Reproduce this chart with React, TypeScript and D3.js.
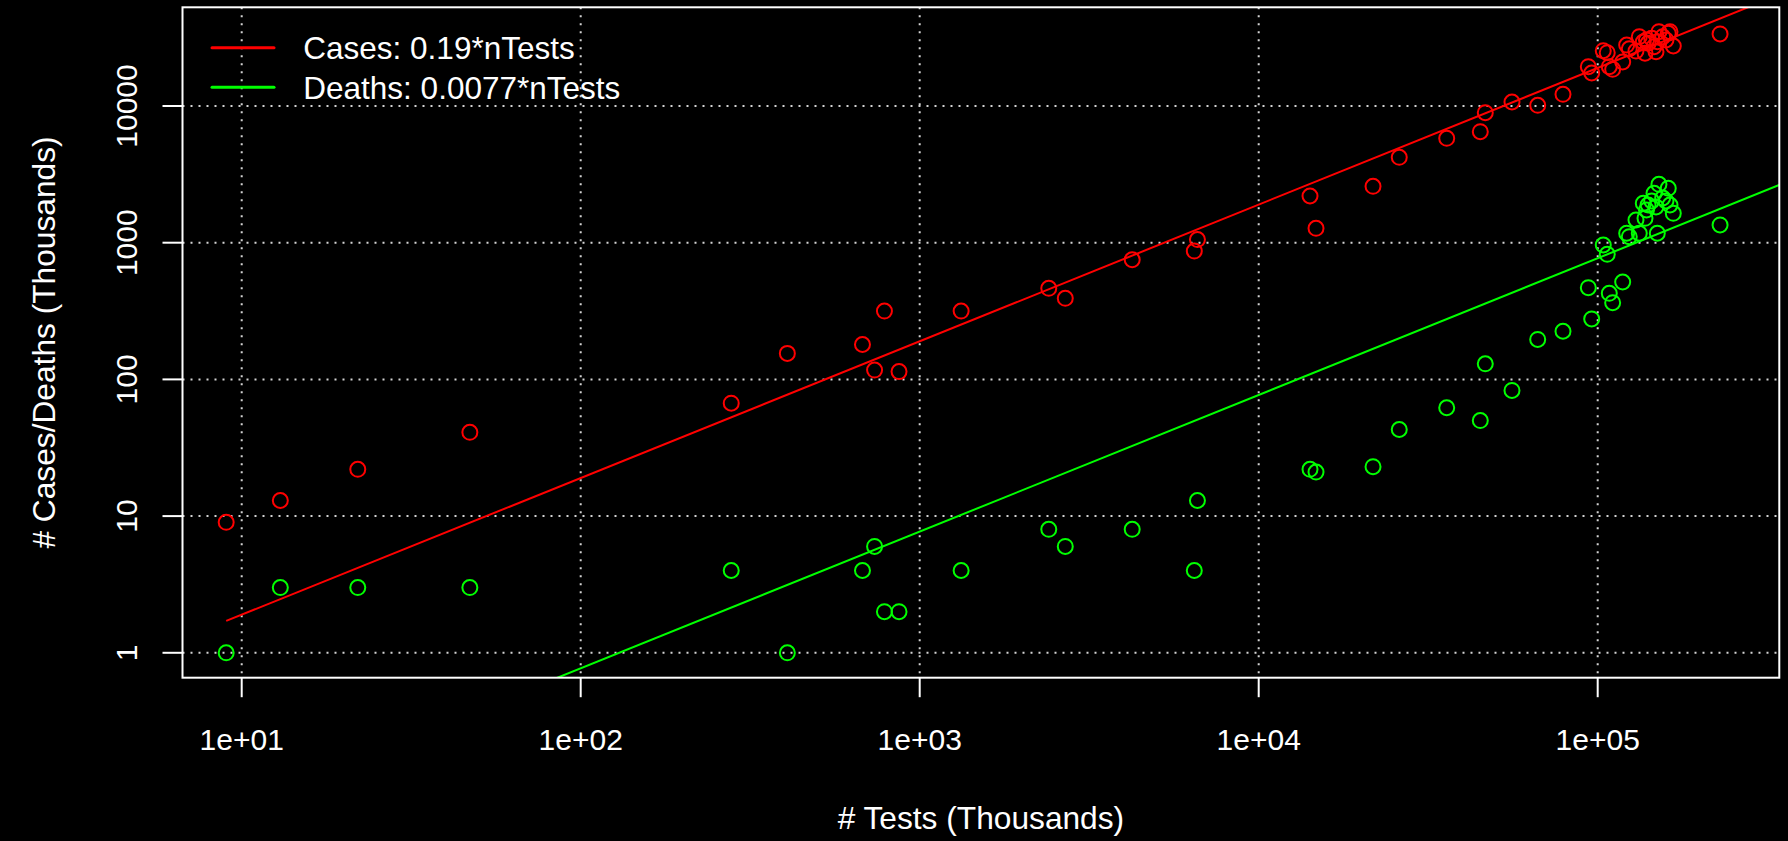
import React from "react";
import * as d3 from "d3";

const tests = [9.0, 13.0, 22.0, 47.1, 278, 407, 678, 736, 787, 869, 1325, 2403, 2688, 4235, 6457, 6596, 14170, 14760, 21740, 25980, 35860, 45050, 46600, 55870, 66530, 79000, 93830, 96000, 103850, 106700, 108190, 110700, 118500, 121760, 123920, 129700, 132640, 136300, 137900, 139300, 140800, 144300, 146600, 148600, 149900, 151600, 155500, 159000, 161500, 163400, 167100, 229600];
const cases = [9, 13, 22, 41, 67, 155, 180, 117, 316, 114, 316, 464, 392, 750, 869, 1054, 2196, 1274, 2586, 4214, 5802, 6486, 8934, 10700, 10120, 12180, 19390, 17440, 25380, 24540, 19390, 18560, 20990, 27900, 26240, 25240, 32130, 29370, 24310, 30400, 28780, 31260, 27160, 24940, 29510, 34990, 32130, 30400, 34040, 34990, 27480, 33650];
const deaths = [1, 3, 3, 3, 4, 1, 4, 6, 2, 2, 4, 8, 6, 8, 4, 13, 22, 21, 23, 43, 62, 50, 130, 83, 196, 225, 469, 277, 962, 822, 426, 364, 516, 1172, 1106, 1466, 1172, 1941, 1508, 1735, 1887, 2018, 2298, 1825, 1172, 2674, 2123, 2018, 2500, 1887, 1641, 1348];

const casesSlope = 0.19;
const deathsSlope = 0.0077;
const xTicks = [10, 100, 1000, 10000, 100000];
const xTickLabels = ["1e+01", "1e+02", "1e+03", "1e+04", "1e+05"];
const yTicks = [1, 10, 100, 1000, 10000];
const yTickLabels = ["1", "10", "100", "1000", "10000"];
const legendLabels = ["Cases: 0.19*nTests", "Deaths: 0.0077*nTests"];
const xTitle = "# Tests (Thousands)";
const yTitle = "# Cases/Deaths (Thousands)";

const W = 1788, H = 841;
const L = 182.5, R = 1779.3, T = 7.3, B = 677.7;
const RED = "#ff0000", GREEN = "#00ff00";
const FONT = "'Liberation Sans', Arial, Helvetica, sans-serif";

export default function App() {
  const x = d3.scaleLog().domain([Math.pow(10, 0.82537), Math.pow(10, 5.5357)]).range([L, R]);
  const y = d3.scaleLog().domain([Math.pow(10, -0.1822), Math.pow(10, 4.722)]).range([B, T]);
  const xMin = d3.min(tests) as number;
  const lineX = [xMin, 1e6];
  const line = d3.line<number>().x((d) => x(d[0])).y((d) => y(d[1]));
  const casesLine = line(lineX.map((v) => [v, v * casesSlope]) as any);
  const deathsLine = line(lineX.map((v) => [v, v * deathsSlope]) as any);

  return (
    <svg width={W} height={H} style={{ position: "absolute", left: 0, top: 0, background: "#000" }} fontFamily={FONT}>
      <rect x={0} y={0} width={W} height={H} fill="#000" />
      <defs>
        <clipPath id="plotclip">
          <rect x={L} y={T} width={R - L} height={B - T} />
        </clipPath>
      </defs>
      {/* grid */}
      <g stroke="#d3d3d3" strokeWidth={2} strokeDasharray="2,6">
        {xTicks.map((t) => (
          <line key={"gx" + t} x1={x(t)} x2={x(t)} y1={T} y2={B} />
        ))}
        {yTicks.map((t) => (
          <line key={"gy" + t} x1={L} x2={R} y1={y(t)} y2={y(t)} />
        ))}
      </g>
      {/* points */}
      <g fill="none" strokeWidth={2}>
        {tests.map((t, i) => (
          <circle key={"c" + i} cx={x(t)} cy={y(cases[i])} r={7.5} stroke={RED} />
        ))}
        {tests.map((t, i) => (
          <circle key={"d" + i} cx={x(t)} cy={y(deaths[i])} r={7.5} stroke={GREEN} />
        ))}
      </g>
      {/* fit lines */}
      <g clipPath="url(#plotclip)" fill="none" strokeWidth={2}>
        <path d={casesLine || ""} stroke={RED} />
        <path d={deathsLine || ""} stroke={GREEN} />
      </g>
      {/* box */}
      <rect x={L} y={T} width={R - L} height={B - T} fill="none" stroke="#fff" strokeWidth={2} />
      {/* axes ticks */}
      <g stroke="#fff" strokeWidth={2}>
        {xTicks.map((t) => (
          <line key={"xt" + t} x1={x(t)} x2={x(t)} y1={B} y2={B + 19.5} />
        ))}
        {yTicks.map((t) => (
          <line key={"yt" + t} x1={L} x2={L - 20} y1={y(t)} y2={y(t)} />
        ))}
      </g>
      <g fill="#fff" fontSize={30}>
        {xTicks.map((t, i) => (
          <text key={"xl" + t} x={x(t)} y={750} textAnchor="middle">{xTickLabels[i]}</text>
        ))}
        {yTicks.map((t, i) => (
          <text key={"yl" + t} transform={`translate(136.5,${y(t)}) rotate(-90)`} textAnchor="middle">{yTickLabels[i]}</text>
        ))}
      </g>
      <g fill="#fff" fontSize={31.7}>
        <text x={(L + R) / 2} y={829} textAnchor="middle">{xTitle}</text>
        <text transform={`translate(55,${(T + B) / 2}) rotate(-90)`} textAnchor="middle">{yTitle}</text>
      </g>
      {/* legend */}
      <g>
        {[RED, GREEN].map((c, i) => (
          <g key={"lg" + i}>
            <line x1={212} x2={274} y1={47.7 + i * 39.6} y2={47.7 + i * 39.6} stroke={c} strokeWidth={3} strokeLinecap="round" />
            <text x={303.3} y={59.2 + i * 39.6} fill="#fff" fontSize={31.5}>{legendLabels[i]}</text>
          </g>
        ))}
      </g>
    </svg>
  );
}
